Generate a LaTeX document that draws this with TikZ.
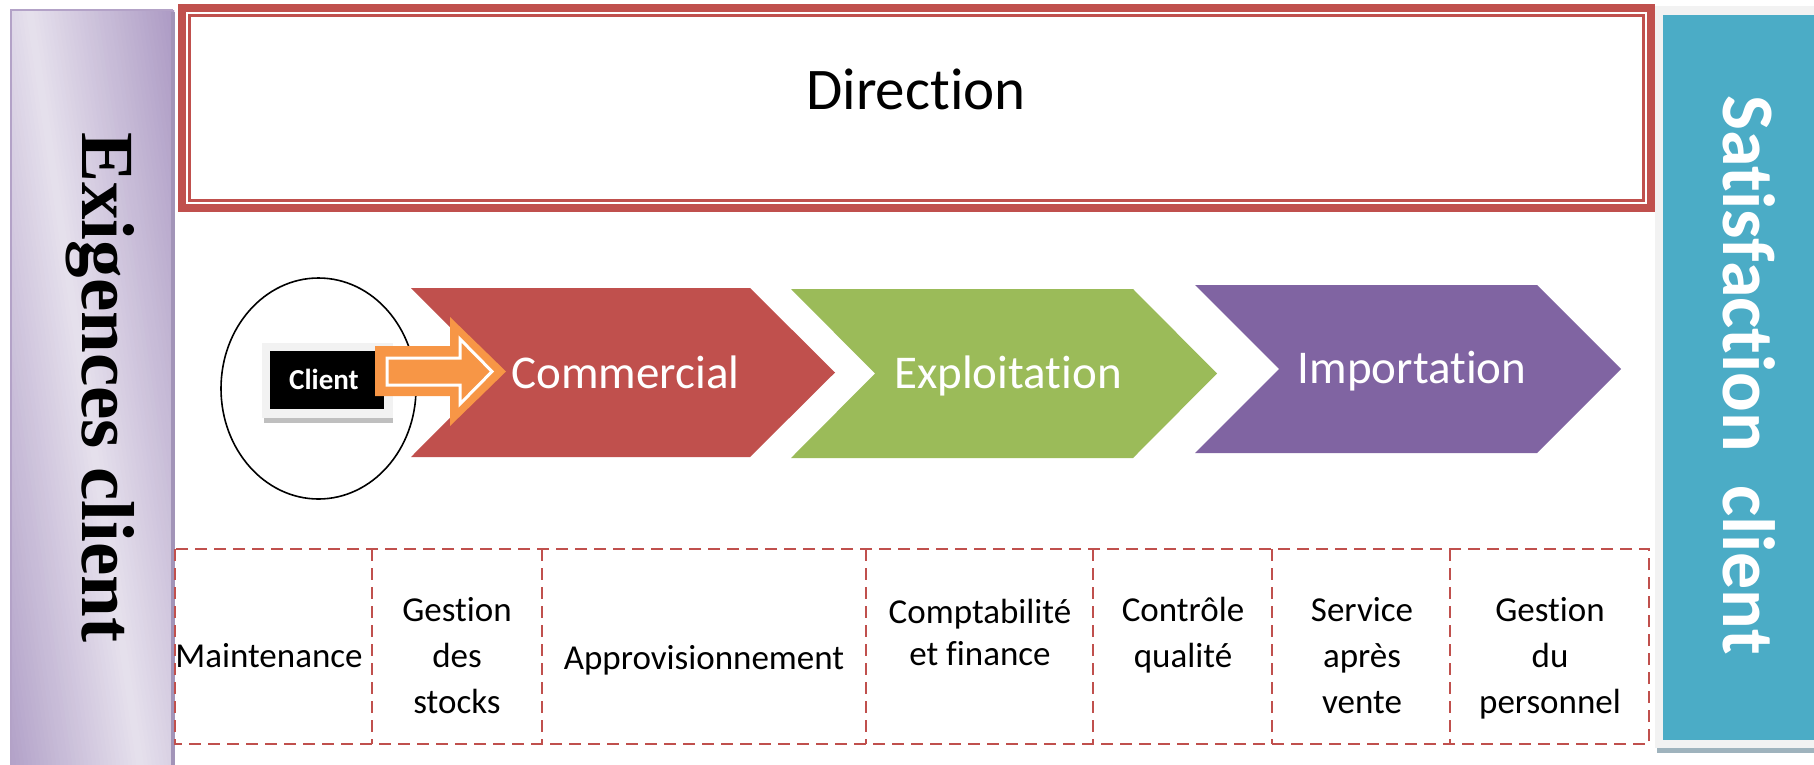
\documentclass[tikz,border=0pt]{standalone}
\usepackage{fontspec}
\setmainfont{Carlito}[Ligatures={TeX,NoCommon}]
\newfontfamily\timesfont{Liberation Serif}
\definecolor{redacc}{HTML}{C0504D}
\definecolor{greenacc}{HTML}{9BBB59}
\definecolor{purpleacc}{HTML}{8064A2}
\definecolor{tealacc}{HTML}{4BACC6}
\definecolor{orangeacc}{HTML}{F79646}
\definecolor{lavdark}{HTML}{AE9CC5}
\definecolor{lavlight}{HTML}{E6E1ED}
\definecolor{lavedge}{HTML}{B3A2C7}
\definecolor{lavshadow}{HTML}{A294B8}
\definecolor{framegray}{HTML}{F2F2F2}
\definecolor{shadowblue}{HTML}{9FB3BD}
\begin{document}
\begin{tikzpicture}[x=1pt,y=-1pt,
  chevtext/.style={text=white,inner sep=0,anchor=base,font=\fontsize{47}{56}\selectfont},
  celltext/.style={inner sep=0,anchor=base,align=center,font=\fontsize{35}{46}\selectfont},
  cellline/.style={draw=redacc,line width=2.4pt,dash pattern=on 12pt off 7pt},
]
\useasboundingbox (0,0) rectangle (1814,764);

% left band: customer requirements, diagonal light streak
\begin{scope}
  \clip (11,10) rectangle (174,770);
  \foreach \a in {-164,-160,...,164} {
    \pgfmathsetmacro\p{max(0,100*(1-abs(\a+2)/140))}
    \fill[lavlight!\p!lavdark] ({29+\a},5) -- ({33.8+\a},5) -- ({145.8+\a},770) -- ({141+\a},770) -- cycle;
  }
\end{scope}
\draw[lavedge,line width=2pt] (11,770) -- (11,10) -- (173,10);
\draw[lavshadow,line width=3.5pt] (173,12) -- (173,770);
\node[rotate=-90,anchor=base west,inner sep=0,
      font=\timesfont\bfseries\fontsize{75}{80}\selectfont] (exig) at (82,132) {Exigences client};

% right band: customer satisfaction
\fill[shadowblue] (1657,745) rectangle (1814,753);
\fill[framegray] (1655,6) rectangle (1814,748);
\fill[tealacc] (1663,15) rectangle (1814,740);
\node[rotate=-90,anchor=base west,inner sep=0,text=white,
      font=\bfseries\fontsize{74}{80}\selectfont] (satis) at (1723,95) {Satisfaction\ \ client};

% management frame
\draw[redacc,line width=8pt] (182,8) rectangle (1651,208);
\draw[redacc,line width=2.5pt] (189.5,15.5) rectangle (1643.5,200.5);
\node[inner sep=0,anchor=base,font=\fontsize{59}{66}\selectfont] (direction) at (916,109) {Direction};

% the customer
\draw[black,line width=1.6pt] (318.5,388.5) ellipse [x radius=97.5,y radius=110.5];
\fill[black!25] (264,417) rectangle (393,423);
\fill[framegray] (262,343) rectangle (393,418);
\fill[black] (270,351) rectangle (384,409);
\node[inner sep=0,anchor=base,text=white,
      font=\bfseries\fontsize{29}{34}\selectfont] (client) at (324,389) {Client};

% process chevrons
\fill[redacc] (411,288) -- (750,288) -- (835,372.5) -- (750,457) -- (411,457) -- (495,372.5) -- cycle;
\fill[greenacc] (791,289) -- (1133,289) -- (1217,373.5) -- (1133,458) -- (791,458) -- (875,373.5) -- cycle;
\fill[purpleacc] (1195,285) -- (1537,285) -- (1621,369) -- (1537,453) -- (1195,453) -- (1279,369) -- cycle;
\node[chevtext] (commercial) at (625.5,388) {Commercial};
\node[chevtext] (exploitation) at (1008,388) {Exploitation};
\node[chevtext] (importation) at (1412,383) {Importation};

% block arrow from the customer into the first process
\fill[orangeacc] (375,346) -- (450,346) -- (450,317) -- (506,371.5) -- (450,426) -- (450,396) -- (375,396) -- cycle;
\draw[white,line width=3pt,line join=miter] (387,358) -- (460,358) -- (460,339) -- (492,371.5) -- (460,404) -- (460,385) -- (387,385) -- cycle;

% support functions
\draw[cellline] (175,549) rectangle (1649,744);
\foreach \xx in {372,542,866,1093,1272,1450}
  \draw[cellline] (\xx,549) -- (\xx,744);
\node[celltext] (maint) at (269,667) {Maintenance};
\node[celltext] (stocks) at (457,713) {Gestion\\des\\stocks};
\node[celltext] (appro) at (704,669) {Approvisionnement};
\node[celltext,font=\fontsize{35}{42}\selectfont] (compta) at (980,665) {Comptabilité\\et finance};
\node[celltext] (qualite) at (1183,667) {Contrôle\\qualité};
\node[celltext] (sav) at (1362,713) {Service\\après\\vente};
\node[celltext] (personnel) at (1550,713) {Gestion\\du\\personnel};
\end{tikzpicture}
\end{document}
